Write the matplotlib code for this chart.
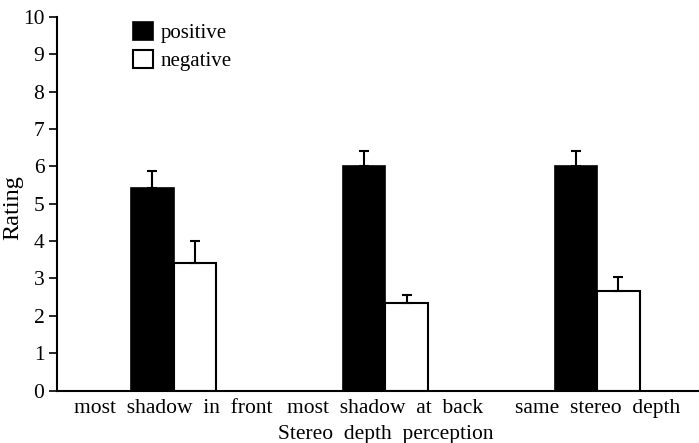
import matplotlib
matplotlib.use("Agg")
import matplotlib.pyplot as plt
import numpy as np
from matplotlib.patches import Patch

categories = ["most  shadow  in  front", "most  shadow  at  back", "same  stereo  depth"]
positive = [5.43, 6.0, 6.0]
positive_err = [0.45, 0.41, 0.41]
negative = [3.41, 2.33, 2.67]
negative_err = [0.59, 0.22, 0.36]
yticks = list(range(0, 11))

plt.rcParams['font.family'] = ['Liberation Serif', 'DejaVu Serif']
FS = 15.5

fig = plt.figure(figsize=(6.99, 4.43), dpi=100)
ax = fig.add_axes([57/699, 52.5/443, 1 - 57/699, 373.5/443])

x = np.arange(len(categories))
w = 0.2
ekw = dict(ecolor='black', elinewidth=1.5, capsize=3.4, capthick=1.5)
ax.bar(x - w/2, positive, w, color='black', edgecolor='black', linewidth=1.2,
       yerr=[np.zeros(3), positive_err], error_kw=ekw, label='positive')
ax.bar(x + w/2, negative, w, color='white', edgecolor='black', linewidth=1.5,
       yerr=[np.zeros(3), negative_err], error_kw=ekw, label='negative')

ax.set_xlim(-0.55, 2.48)
ax.set_ylim(0, 10)
ax.set_yticks(yticks)
ax.tick_params(axis='y', direction='out', length=6, width=1.2, labelsize=FS, pad=3)
ax.set_xticks(x)
ax.set_xticklabels(categories, fontsize=FS)
ax.tick_params(axis='x', length=0, pad=6)

for s in ['top', 'right']:
    ax.spines[s].set_visible(False)
ax.spines['left'].set_linewidth(1.5)
ax.spines['bottom'].set_linewidth(1.5)

ax.set_ylabel('Rating', fontsize=17.5)
ax.yaxis.set_label_coords(-(57-23)/642, 0.491)
ax.set_xlabel('Stereo  depth  perception', fontsize=FS, va='baseline')
ax.xaxis.set_label_coords(1.0, -(439.5-390.5)/373.5, transform=ax.get_xaxis_transform())

handles = [Patch(facecolor='black', edgecolor='black', linewidth=1.2),
           Patch(facecolor='white', edgecolor='black', linewidth=1.5)]
ax.legend(handles, ['positive', 'negative'], loc='upper left',
          bbox_to_anchor=((114-57)/642, 1.036), frameon=False, fontsize=15,
          handlelength=0.95, handleheight=0.95, handletextpad=0.4, labelspacing=0.33)

fig.savefig('out.png', dpi=100)
